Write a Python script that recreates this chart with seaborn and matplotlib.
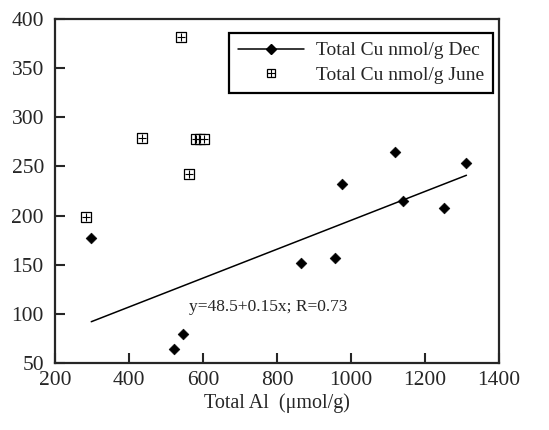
import numpy as np
import pandas as pd
import matplotlib
matplotlib.use("Agg")
import matplotlib.pyplot as plt
import seaborn as sns
from matplotlib.lines import Line2D
from matplotlib.legend_handler import HandlerTuple

# Dec samples (diamonds)
dec_al = [298, 521, 546, 864, 957, 975, 1120, 1140, 1250, 1312]
dec_cu = [177, 64, 79, 152, 157, 232, 265, 215, 208, 253]

# June samples (boxed plus)
june_al = [284, 434, 541, 563, 581, 592, 603]
june_cu = [199, 279, 382, 242, 278, 278, 278]

# fitted line end points as drawn
fit_al = [298, 1312]
fit_cu = [92, 241]

sns.set_style("ticks")
plt.rcParams['font.family'] = ['Liberation Serif', 'DejaVu Serif']

fig = plt.figure(figsize=(5.49, 4.30), dpi=100)
ax = fig.add_axes([55/549, 1 - 363/430, 444/549, 344/430])

dec = pd.DataFrame({"al": dec_al, "cu": dec_cu})
june = pd.DataFrame({"al": june_al, "cu": june_cu})
fit = pd.DataFrame({"al": fit_al, "cu": fit_cu})

sns.lineplot(data=fit, x="al", y="cu", color="black", lw=1.1, ax=ax)
sns.scatterplot(data=dec, x="al", y="cu", marker="D", s=30, color="black",
                edgecolor="black", ax=ax, zorder=3)
sns.scatterplot(data=june, x="al", y="cu", marker="s", s=42, facecolor="white",
                edgecolor="black", linewidth=0.9, ax=ax, zorder=3)
sns.scatterplot(data=june, x="al", y="cu", marker="+", s=30, color="black",
                linewidth=0.8, ax=ax, zorder=4)

ax.set_xlim(200, 1400)
ax.set_ylim(50, 400)
ax.set_xticks([200, 400, 600, 800, 1000, 1200, 1400])
ax.set_yticks([50, 100, 150, 200, 250, 300, 350, 400])
ax.tick_params(direction="in", length=7, width=1.5, labelsize=15.5, pad=8)
ax.tick_params(axis="x", pad=6)
for s in ax.spines.values():
    s.set_linewidth(1.6)
    s.set_visible(True)

ax.set_xlabel("Total Al  (\u03bcmol/g)", fontsize=14.5, labelpad=2)
ax.set_ylabel("")

ax.text(562, 107, "y=48.5+0.15x; R=0.73", fontsize=12.5, ha="left", va="center")

h_dec = Line2D([], [], color="black", lw=1.1, marker="D", markersize=5)
h_sq = Line2D([], [], color="black", lw=0, marker="s", markersize=6,
              markerfacecolor="white", markeredgewidth=0.9)
h_pl = Line2D([], [], color="black", lw=0, marker="+", markersize=5.5,
              markeredgewidth=0.8)
leg = ax.legend([h_dec, (h_sq, h_pl)],
                ["Total Cu nmol/g Dec", "Total Cu nmol/g June"],
                handler_map={tuple: HandlerTuple(ndivide=1)},
                loc="upper right", bbox_to_anchor=(0.986, 0.959),
                borderaxespad=0, fontsize=14, fancybox=False, framealpha=1,
                edgecolor="black", handlelength=3.4, numpoints=1,
                borderpad=0.45, labelspacing=0.35, handletextpad=0.6)
leg.get_frame().set_linewidth(1.6)

fig.savefig("out.png", dpi=100)
